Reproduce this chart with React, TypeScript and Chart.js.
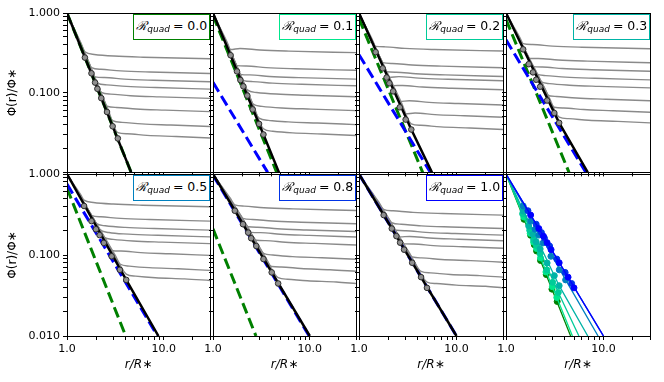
import React, { useEffect, useRef } from "react";
import { Chart, registerables } from "chart.js";

Chart.register(...registerables);

const FONT = "'DejaVu Sans', sans-serif";
Chart.defaults.font.family = FONT;
Chart.defaults.color = "#000";

// ---------- axes ----------
const X_MIN = 1;
const X_MAX = 30;
const Y_MIN = 0.01;
const Y_MAX = 1;
const X_TICKS = [1, 2, 3, 4, 5, 6, 7, 8, 9, 10, 20, 30];
const X_TICK_LABELS: Record<string, string> = { "1": "1.0", "10": "10.0" };
const Y_TICKS = [
  0.01, 0.02, 0.03, 0.04, 0.05, 0.06, 0.07, 0.08, 0.09,
  0.1, 0.2, 0.3, 0.4, 0.5, 0.6, 0.7, 0.8, 0.9, 1,
];
const Y_TICK_LABELS_TOP: Record<string, string> = { "1": "1.000", "0.1": "0.100" };
const Y_TICK_LABELS_BOTTOM: Record<string, string> = { "1": "1.000", "0.1": "0.100", "0.01": "0.010" };
const X_TITLE = "r/R\u2217";
const Y_TITLE = "\u03A6(r)/\u03A6\u2217";

// ---------- R_quad values ----------
const R_LABELS = ["0.0", "0.1", "0.2", "0.3", "0.5", "0.8", "1.0"];
const R_COLORS = ["#008000", "#00E68C", "#00CC99", "#00B3A6", "#0080BF", "#0033E6", "#0000FF"];

// ---------- R = 0.0 ----------
const circR_R00 = [1.53, 1.79, 1.95, 2.06, 2.26, 2.59, 2.96, 3.35];
const circPhi_R00 = [0.276, 0.175, 0.134, 0.112, 0.0855, 0.0573, 0.0379, 0.0267];
const plateau_R00 = [0.267, 0.174, 0.137, 0.111, 0.0849, 0.0578, 0.0376, 0.027];
const blackR_R00 = [1, 4.6];
const blackPhi_R00 = [1, 0.01];
const greenR_R00 = [1, 4.6];
const greenPhi_R00 = [1, 0.01];
const blueR_R00: number[] = [];
const bluePhi_R00: number[] = [];

// ---------- R = 0.1 ----------
const circR_R01 = [1.52, 1.77, 1.92, 2.06, 2.26, 2.57, 2.99, 3.32];
const circPhi_R01 = [0.295, 0.185, 0.144, 0.12, 0.092, 0.0617, 0.0406, 0.0299];
const plateau_R01 = [0.318, 0.191, 0.148, 0.122, 0.089, 0.0596, 0.0398, 0.029];
const blackR_R01 = [1, 3.32, 4.8];
const blackPhi_R01 = [1, 0.0299, 0.01];
const greenR_R01 = [1, 4.55];
const greenPhi_R01 = [0.93, 0.01];
const blueR_R01 = [1, 3.67];
const bluePhi_R01 = [0.135, 0.01];

// ---------- R = 0.2 ----------
const circR_R02 = [1.48, 1.75, 1.92, 2.05, 2.24, 2.62, 3.01, 3.44];
const circPhi_R02 = [0.323, 0.202, 0.155, 0.1315, 0.104, 0.0656, 0.046, 0.0345];
const plateau_R02 = [0.333, 0.206, 0.16, 0.141, 0.109, 0.0701, 0.0492, 0.0345];
const blackR_R02 = [1, 3.44, 5.6];
const blackPhi_R02 = [1, 0.0345, 0.01];
const greenR_R02 = [1, 4.5];
const greenPhi_R02 = [0.85, 0.01];
const blueR_R02 = [1, 5.4];
const bluePhi_R02 = [0.3, 0.01];

// ---------- R = 0.3 ----------
const circR_R03 = [1.5, 1.71, 1.89, 2.04, 2.24, 2.64, 3.13, 3.51];
const circPhi_R03 = [0.35, 0.228, 0.18, 0.1455, 0.119, 0.0798, 0.0556, 0.0418];
const plateau_R03 = [0.356, 0.238, 0.186, 0.145, 0.115, 0.0793, 0.0569, 0.0418];
const blackR_R03 = [1, 3.51, 6.9];
const blackPhi_R03 = [1, 0.0418, 0.01];
const greenR_R03 = [1, 4.43];
const greenPhi_R03 = [0.83, 0.01];
const blueR_R03 = [1, 6.6];
const bluePhi_R03 = [0.46, 0.01];

// ---------- R = 0.5 ----------
const circR_R05 = [1.5, 1.79, 1.99, 2.17, 2.4, 2.89, 3.52, 4.09];
const circPhi_R05 = [0.403, 0.262, 0.208, 0.176, 0.141, 0.0964, 0.0656, 0.0493];
const plateau_R05 = [0.394, 0.262, 0.203, 0.1675, 0.138, 0.099, 0.0646, 0.0485];
const blackR_R05 = [1, 4.09, 8.8];
const blackPhi_R05 = [1, 0.0493, 0.01];
const greenR_R05 = [1, 4.04];
const greenPhi_R05 = [0.667, 0.01];
const blueR_R05 = [1, 8.6];
const bluePhi_R05 = [0.75, 0.01];

// ---------- R = 0.8 ----------
const circR_R08 = [1.68, 2.04, 2.31, 2.48, 2.8, 3.32, 4.04, 4.71];
const circPhi_R08 = [0.352, 0.24, 0.189, 0.161, 0.129, 0.0891, 0.061, 0.0445];
const plateau_R08 = [0.355, 0.243, 0.195, 0.167, 0.133, 0.0885, 0.063, 0.0445];
const blackR_R08 = [1, 10];
const blackPhi_R08 = [1, 0.01];
const greenR_R08 = [1, 2.78];
const greenPhi_R08 = [0.21, 0.01];
const blueR_R08 = [1, 9.85];
const bluePhi_R08 = [0.97, 0.01];

// ---------- R = 1.0 ----------
const circR_R10 = [1.79, 2.17, 2.42, 2.64, 2.9, 3.51, 4.33, 4.98];
const circPhi_R10 = [0.311, 0.212, 0.171, 0.142, 0.1164, 0.0802, 0.0533, 0.0393];
const plateau_R10 = [0.311, 0.212, 0.176, 0.15, 0.121, 0.0815, 0.0533, 0.0393];
const blackR_R10 = [1, 10];
const blackPhi_R10 = [1, 0.01];
const greenR_R10: number[] = [];
const greenPhi_R10: number[] = [];
const blueR_R10 = [1, 10];
const bluePhi_R10 = [1, 0.01];

// gray curve shape.
// before the knee: (fraction of the way, in log r, from r=1 to the circle, lift above the black line)
const GRAY_PRE: [number, number][] = [
  [0.3, 1.05],
  [0.55, 1.1],
  [0.8, 1.15],
];
// at the circle radius: lift above the circle
const GRAY_KNEE_LIFT = 1.18;
// after the knee: (r / r_circle, Φ / plateau)
const GRAY_POST: [number, number][] = [
  [1.25, 1.13],
  [2, 1.08],
  [4, 1.045],
];

type Series = {
  circR: number[]; circPhi: number[]; plateau: number[];
  blackR: number[]; blackPhi: number[];
  greenR: number[]; greenPhi: number[];
  blueR: number[]; bluePhi: number[];
};

const SERIES: Series[] = [
  { circR: circR_R00, circPhi: circPhi_R00, plateau: plateau_R00, blackR: blackR_R00, blackPhi: blackPhi_R00, greenR: greenR_R00, greenPhi: greenPhi_R00, blueR: blueR_R00, bluePhi: bluePhi_R00 },
  { circR: circR_R01, circPhi: circPhi_R01, plateau: plateau_R01, blackR: blackR_R01, blackPhi: blackPhi_R01, greenR: greenR_R01, greenPhi: greenPhi_R01, blueR: blueR_R01, bluePhi: bluePhi_R01 },
  { circR: circR_R02, circPhi: circPhi_R02, plateau: plateau_R02, blackR: blackR_R02, blackPhi: blackPhi_R02, greenR: greenR_R02, greenPhi: greenPhi_R02, blueR: blueR_R02, bluePhi: bluePhi_R02 },
  { circR: circR_R03, circPhi: circPhi_R03, plateau: plateau_R03, blackR: blackR_R03, blackPhi: blackPhi_R03, greenR: greenR_R03, greenPhi: greenPhi_R03, blueR: blueR_R03, bluePhi: bluePhi_R03 },
  { circR: circR_R05, circPhi: circPhi_R05, plateau: plateau_R05, blackR: blackR_R05, blackPhi: blackPhi_R05, greenR: greenR_R05, greenPhi: greenPhi_R05, blueR: blueR_R05, bluePhi: bluePhi_R05 },
  { circR: circR_R08, circPhi: circPhi_R08, plateau: plateau_R08, blackR: blackR_R08, blackPhi: blackPhi_R08, greenR: greenR_R08, greenPhi: greenPhi_R08, blueR: blueR_R08, bluePhi: bluePhi_R08 },
  { circR: circR_R10, circPhi: circPhi_R10, plateau: plateau_R10, blackR: blackR_R10, blackPhi: blackPhi_R10, greenR: greenR_R10, greenPhi: greenPhi_R10, blueR: blueR_R10, bluePhi: bluePhi_R10 },
];

// ---------- layout ----------
const FIG_W = 664;
const FIG_H = 382;
const PLOT_X = [67, 213, 359, 506];
const PLOT_W = [146, 146, 147, 147];
const PLOT_Y = [13, 174];
const PLOT_H = [161, 162];

type Geom = { row: number; col: number };

function pts(rs: number[], ys: number[]) {
  return rs.map((r, i) => ({ x: r, y: ys[i] }));
}

function lineDS(data: { x: number; y: number }[], color: string, width: number, dash: number[], order: number, extra: any = {}) {
  return {
    data,
    borderColor: color,
    backgroundColor: color,
    borderWidth: width,
    borderDash: dash,
    pointRadius: 0,
    fill: false,
    tension: 0,
    order,
    clip: 0,
    ...extra,
  };
}

function circleDS(s: Series, fill: string, edge: string, radius: number, order: number) {
  return {
    data: pts(s.circR, s.circPhi),
    showLine: false,
    pointRadius: radius,
    pointBackgroundColor: fill,
    pointBorderColor: edge,
    pointBorderWidth: 1,
    borderColor: edge,
    backgroundColor: fill,
    order,
    clip: false,
  };
}

function grayCurves(s: Series) {
  return s.plateau.map((p, i) => {
    const rc = s.circR[i];
    const pc = s.circPhi[i];
    const data = [
      { x: 1, y: 1 },
      ...GRAY_PRE.map(([f, lift]) => ({ x: Math.pow(rc, f), y: Math.pow(pc, f) * lift })),
      { x: rc, y: pc * GRAY_KNEE_LIFT },
      ...GRAY_POST.map(([fr, fy]) => ({ x: rc * fr, y: p * fy })),
      { x: X_MAX, y: p },
    ];
    return lineDS(data, "#8a8a8a", 1.4, [], 5, { cubicInterpolationMode: "monotone" });
  });
}

function panelDatasets(k: number) {
  const s = SERIES[k];
  const ds: any[] = [...grayCurves(s)];
  if (s.greenR.length) ds.push(lineDS(pts(s.greenR, s.greenPhi), "#008000", 3, [11, 5], 4));
  if (s.blueR.length) ds.push(lineDS(pts(s.blueR, s.bluePhi), "#0000FF", 3, [11, 5], 3));
  ds.push(lineDS(pts(s.blackR, s.blackPhi), "#000000", 2.5, [], 2));
  ds.push(circleDS(s, "#8f8f8f", "#2a2a2a", 2.8, 1));
  return ds;
}

function comparisonDatasets() {
  const ds: any[] = [];
  SERIES.forEach((s, k) => {
    ds.push(lineDS(pts(s.blackR, s.blackPhi), R_COLORS[k], 1.3, [], 20 - 2 * k));
    ds.push(circleDS(s, R_COLORS[k], R_COLORS[k], 3, 19 - 2 * k));
  });
  return ds;
}

const framePlugin = {
  id: "frame",
  afterDraw(chart: any) {
    const { ctx, chartArea } = chart;
    const l = Math.round(chartArea.left) + 0.5;
    const t = Math.round(chartArea.top) + 0.5;
    const r = Math.round(chartArea.right) + 0.5;
    const b = Math.round(chartArea.bottom) + 0.5;
    ctx.save();
    ctx.strokeStyle = "#000";
    ctx.lineWidth = 1;
    ctx.strokeRect(l, t, r - l, b - t);
    ctx.restore();
  },
};

function canvasBox(g: Geom) {
  const lm = g.col === 0 ? PLOT_X[0] : 14;
  const rm = 2;
  const tm = g.row === 0 ? PLOT_Y[0] : 10;
  const bm = g.row === 1 ? FIG_H - (PLOT_Y[1] + PLOT_H[1]) : 8;
  return {
    lm, rm, tm, bm,
    left: PLOT_X[g.col] - lm,
    top: PLOT_Y[g.row] - tm,
    width: PLOT_W[g.col] + lm + rm,
    height: PLOT_H[g.row] + tm + bm,
  };
}

function buildConfig(g: Geom, datasets: any[]) {
  const b = canvasBox(g);
  const showX = g.row === 1;
  const showY = g.col === 0;
  const yLabels = g.row === 0 ? Y_TICK_LABELS_TOP : Y_TICK_LABELS_BOTTOM;
  return {
    type: "line",
    data: { datasets },
    options: {
      animation: false,
      responsive: false,
      devicePixelRatio: 1,
      events: [],
      layout: { padding: { left: 0, right: b.rm, top: b.tm, bottom: 0 } },
      plugins: { legend: { display: false }, tooltip: { enabled: false }, title: { display: false } },
      scales: {
        x: {
          type: "logarithmic",
          position: "bottom",
          min: X_MIN,
          max: X_MAX,
          afterBuildTicks: (s: any) => { s.ticks = X_TICKS.map((v) => ({ value: v })); },
          afterFit: (s: any) => { s.height = b.bm; },
          ticks: {
            autoSkip: false, maxRotation: 0, minRotation: 0, padding: 3,
            font: { size: 11, family: FONT }, color: "#000",
            callback: (v: any) => (showX ? X_TICK_LABELS[String(v)] ?? "" : ""),
          },
          grid: { display: true, drawOnChartArea: false, drawTicks: true, tickLength: 4, color: "#000", lineWidth: 1 },
          border: { display: false },
          title: {
            display: showX, text: X_TITLE, color: "#000",
            font: { size: 12, style: "italic", family: FONT },
            padding: { top: 0, bottom: 10 },
          },
        },
        y: {
          type: "logarithmic",
          position: "left",
          min: Y_MIN,
          max: Y_MAX,
          afterBuildTicks: (s: any) => { s.ticks = Y_TICKS.map((v) => ({ value: v })); },
          afterFit: (s: any) => { s.width = b.lm; },
          ticks: {
            autoSkip: false, padding: 3,
            font: { size: 11, family: FONT }, color: "#000",
            callback: (v: any) => (showY ? yLabels[String(v)] ?? "" : ""),
          },
          grid: { display: true, drawOnChartArea: false, drawTicks: true, tickLength: 4, color: "#000", lineWidth: 1 },
          border: { display: false },
          title: {
            display: showY, text: Y_TITLE, color: "#000",
            font: { size: 12, family: FONT },
            padding: { top: 6, bottom: 0 },
          },
        },
      },
    },
    plugins: [framePlugin],
  } as any;
}

function Panel({ g, datasets }: { g: Geom; datasets: any[] }) {
  const ref = useRef<HTMLCanvasElement>(null);
  const b = canvasBox(g);
  useEffect(() => {
    const chart = new Chart(ref.current as HTMLCanvasElement, buildConfig(g, datasets));
    return () => chart.destroy();
  }, []);
  return (
    <canvas
      ref={ref}
      width={b.width}
      height={b.height}
      style={{ position: "absolute", left: b.left, top: b.top, width: b.width, height: b.height }}
    />
  );
}

function LegendBox({ g, k }: { g: Geom; k: number }) {
  const w = 77;
  const h = 26;
  const left = PLOT_X[g.col] + PLOT_W[g.col] - 3 - w;
  const top = PLOT_Y[g.row] + 0.5;
  return (
    <div
      style={{
        position: "absolute", left, top, width: w, height: h, boxSizing: "border-box",
        border: `1.5px solid ${R_COLORS[k]}`, background: "#fff",
        display: "flex", alignItems: "center", justifyContent: "center",
        fontFamily: FONT, fontSize: 12.5, color: "#000", whiteSpace: "nowrap", lineHeight: "1",
      }}
    >
      <span style={{ fontFamily: "'DejaVu Serif', serif", fontStyle: "italic" }}>{"\u211B"}</span>
      <span style={{ fontSize: 9, fontStyle: "italic", position: "relative", top: 3, marginLeft: 0.5 }}>quad</span>
      <span style={{ marginLeft: 3 }}>{"= " + R_LABELS[k]}</span>
    </div>
  );
}

const PANEL_GEOMS: Geom[] = [
  { row: 0, col: 0 }, { row: 0, col: 1 }, { row: 0, col: 2 }, { row: 0, col: 3 },
  { row: 1, col: 0 }, { row: 1, col: 1 }, { row: 1, col: 2 },
];
const COMPARE_GEOM: Geom = { row: 1, col: 3 };

export default function App() {
  return (
    <div style={{ position: "fixed", left: 0, top: 0, width: FIG_W, height: FIG_H, background: "#fff", overflow: "hidden" }}>
      {PANEL_GEOMS.map((g, k) => (
        <Panel key={"p" + k} g={g} datasets={panelDatasets(k)} />
      ))}
      <Panel key="cmp" g={COMPARE_GEOM} datasets={comparisonDatasets()} />
      {PANEL_GEOMS.map((g, k) => (
        <LegendBox key={"l" + k} g={g} k={k} />
      ))}
    </div>
  );
}
